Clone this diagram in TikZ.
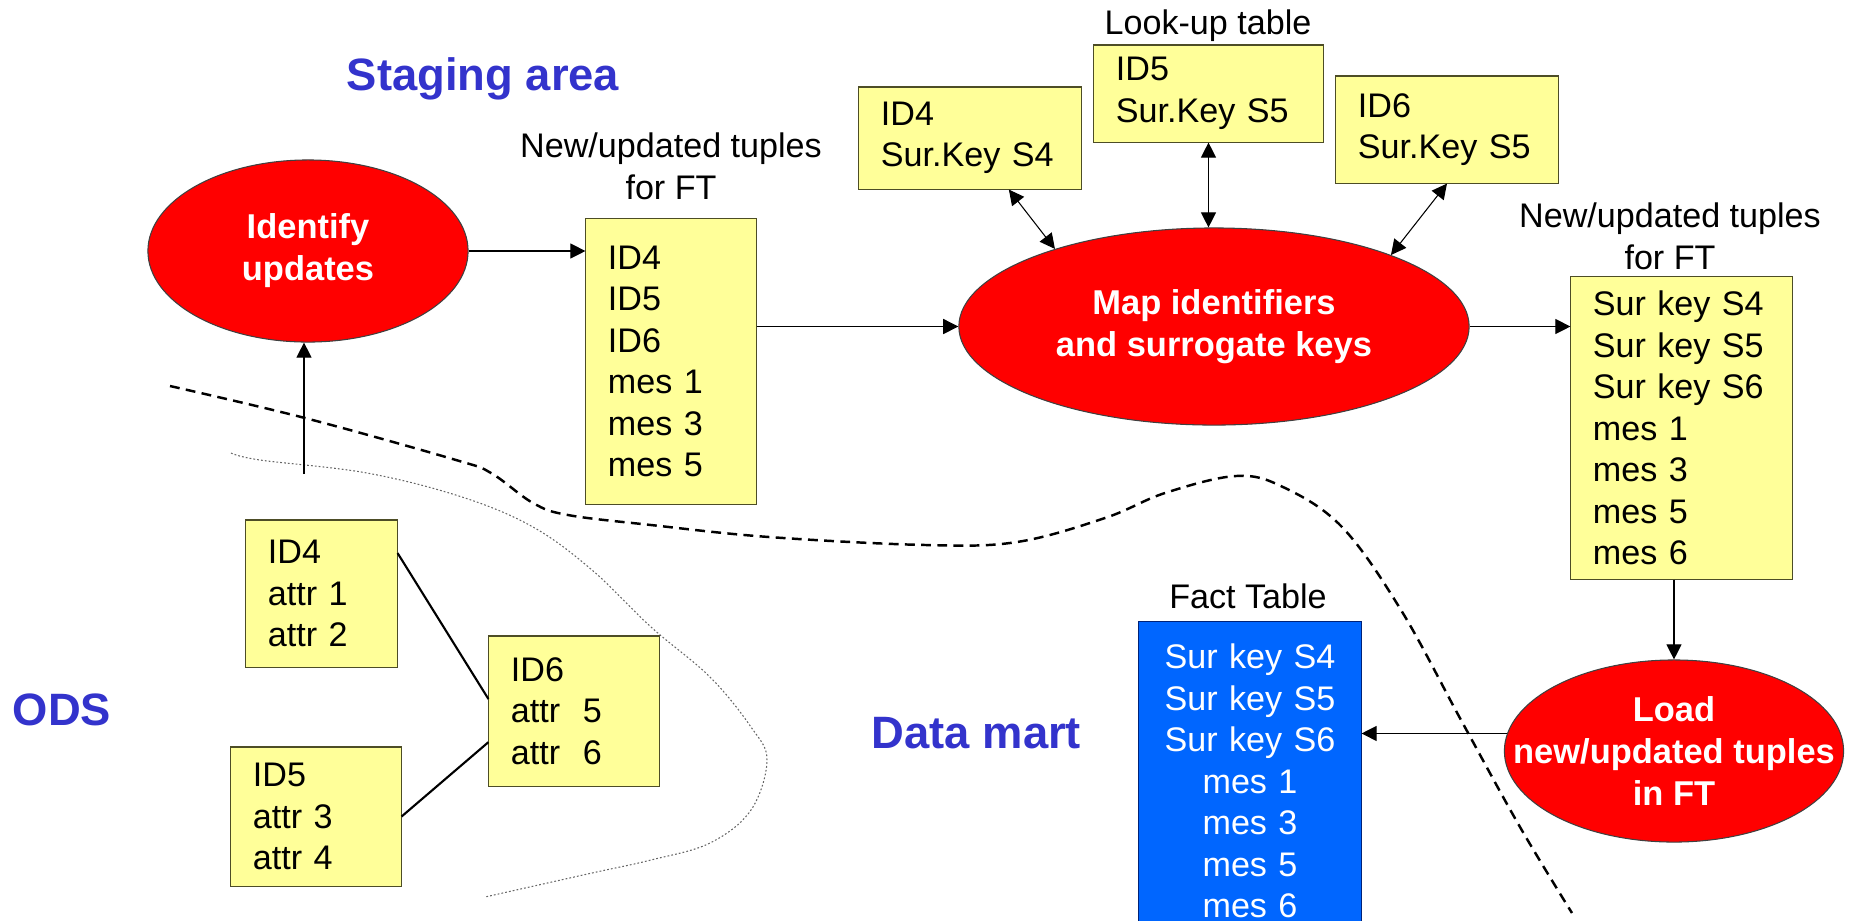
\documentclass[tikz,border=0pt]{standalone}
\usepackage{fontspec}
\setmainfont{Liberation Sans}
\usetikzlibrary{arrows.meta,shapes.geometric}

\definecolor{notepad}{HTML}{FFFF99}
\definecolor{noteline}{HTML}{4D4D26}
\definecolor{procred}{HTML}{FF0000}
\definecolor{factblue}{HTML}{0066FF}
\definecolor{factline}{HTML}{002277}
\definecolor{areablue}{HTML}{3333CC}

\tikzset{
  tuples/.style 2 args={draw=noteline, line width=0.3pt, fill=notepad, align=left,
    inner xsep=0.22cm, inner ysep=0pt, text width=#1, minimum height=#2,
    font=\fontsize{9.7pt}{11.8pt}\selectfont},
  process/.style={ellipse, draw=black!75, line width=0.3pt, fill=procred, text=white,
    align=center, inner sep=-0.5cm, font=\fontsize{9.8pt}{11.9pt}\selectfont\bfseries},
  tagtext/.style={align=center, inner sep=0pt, font=\fontsize{9.7pt}{11.8pt}\selectfont},
  area/.style={inner sep=0pt, text=areablue, font=\fontsize{12.9pt}{15pt}\selectfont\bfseries},
}

\begin{document}
\begin{tikzpicture}[x=0.01cm, y=-0.01cm, line width=0.3pt, >={Triangle[length=4.3pt,width=4.3pt]}]
    \useasboundingbox (0,0) rectangle (1856,920);
    \clip (0,0) rectangle (1856,920);

    % areas
    \node[area, anchor=base] (staging) at (483,90) {Staging area};
    \node[area, anchor=base] (ods) at (62,725) {ODS};
    \node[area, anchor=base] (mart) at (976.5,748) {Data mart};

    % borders between the areas
    \draw[line width=0.7pt, dash pattern=on 2.8pt off 1.8pt] plot[smooth, tension=0.6] coordinates {
        (170,386) (305,418) (456,460) (491,473) (533,503) (568,515) (651,525) (769,537)
        (926,545) (1017,542) (1105,518) (1165,493) (1236,476) (1283,487) (1342,527)
        (1401,610) (1461,720) (1520,827) (1572,913)};
    \draw[black!60, dash pattern=on 0.5pt off 0.6pt] plot[smooth, tension=0.6] coordinates {
        (231,453) (260,460) (367,473) (462,497) (533,527) (592,570) (651,627) (710,677)
        (751,727) (767,760) (751,810) (710,843) (651,860) (592,873) (485,897)};

    % ODS tuples
    \node[tuples={1.07cm}{1.47cm}] (odsfour) at (321.5,593.5) {ID4\\attr 1\\attr 2};
    \node[tuples={1.26cm}{1.50cm}] (odssix) at (574,711) {ID6\\attr\ \ 5\\attr\ \ 6};
    \node[tuples={1.26cm}{1.39cm}] (odsfive) at (316,816.5) {ID5\\attr 3\\attr 4};
    \draw[line width=0.6pt] (odsfour.28) -- (odssix.172);
    \draw[line width=0.6pt] (odsfive.east) -- (odssix.200);

    % staging area
    \node[process, minimum width=3.20cm, minimum height=1.82cm] (identify) at (308,251) {Identify\\updates};
    \node[tuples={1.26cm}{2.85cm}] (stagetuples) at (671,361.5) {ID4\\ID5\\ID6\\mes 1\\mes 3\\mes 5};
    \node[tagtext, anchor=south] (stagecap) at (671,200) {New/updated tuples\\for FT};

    \node[process, minimum width=5.10cm, minimum height=1.97cm] (mapid) at (1214,326.5) {Map identifiers\\and surrogate keys};

    \node[tuples={1.78cm}{1.02cm}] (lkfour) at (970,138) {ID4\\Sur.Key S4};
    \node[tuples={1.85cm}{0.97cm}] (lkfive) at (1208.5,93.5) {ID5\\Sur.Key S5};
    \node[tuples={1.78cm}{1.07cm}] (lksix) at (1447,129.5) {ID6\\Sur.Key S5};
    \node[tagtext, anchor=base] (lkcap) at (1208,34) {Look-up table};

    \node[tuples={1.77cm}{3.02cm}] (rtuples) at (1681.5,428) {Sur key S4\\Sur key S5\\Sur key S6\\mes 1\\mes 3\\mes 5\\mes 6};
    \node[tagtext, anchor=south] (rcap) at (1670,270) {New/updated tuples\\for FT};

    % data mart
    \node[process, minimum width=3.39cm, minimum height=1.82cm] (load) at (1674,751) {Load\\new/updated tuples\\in FT};
    \node[draw=factline, fill=factblue, text=white, align=center, inner sep=0pt,
        text width=2.22cm, minimum height=3.18cm, font=\fontsize{9.7pt}{11.8pt}\selectfont]
        (fact) at (1250,781) {Sur key S4\\Sur key S5\\Sur key S6\\mes 1\\mes 3\\mes 5\\mes 6};
    \node[tagtext, anchor=base] (factcap) at (1248,608) {Fact Table};

    % flow
    \coordinate (odsfeed) at (304,474);
    \draw[->] (odsfeed) -- (odsfeed |- identify.south);
    \draw[->] (identify.east) -- (identify.east -| stagetuples.west);
    \draw[->] (stagetuples.east |- mapid) -- (mapid.west);
    \draw[<->] (lkfour.-53) -- (mapid.154);
    \draw[<->] (lkfive.south) -- (lkfive.south |- mapid.north);
    \draw[<->] (lksix.south) -- (mapid.22);
    \draw[->] (mapid.east) -- (mapid.east -| rtuples.west);
    \draw[->] (rtuples.south -| load.north) -- (load.north);
    \draw[->] (load.174) -- (load.174 -| fact.east);
\end{tikzpicture}
\end{document}
